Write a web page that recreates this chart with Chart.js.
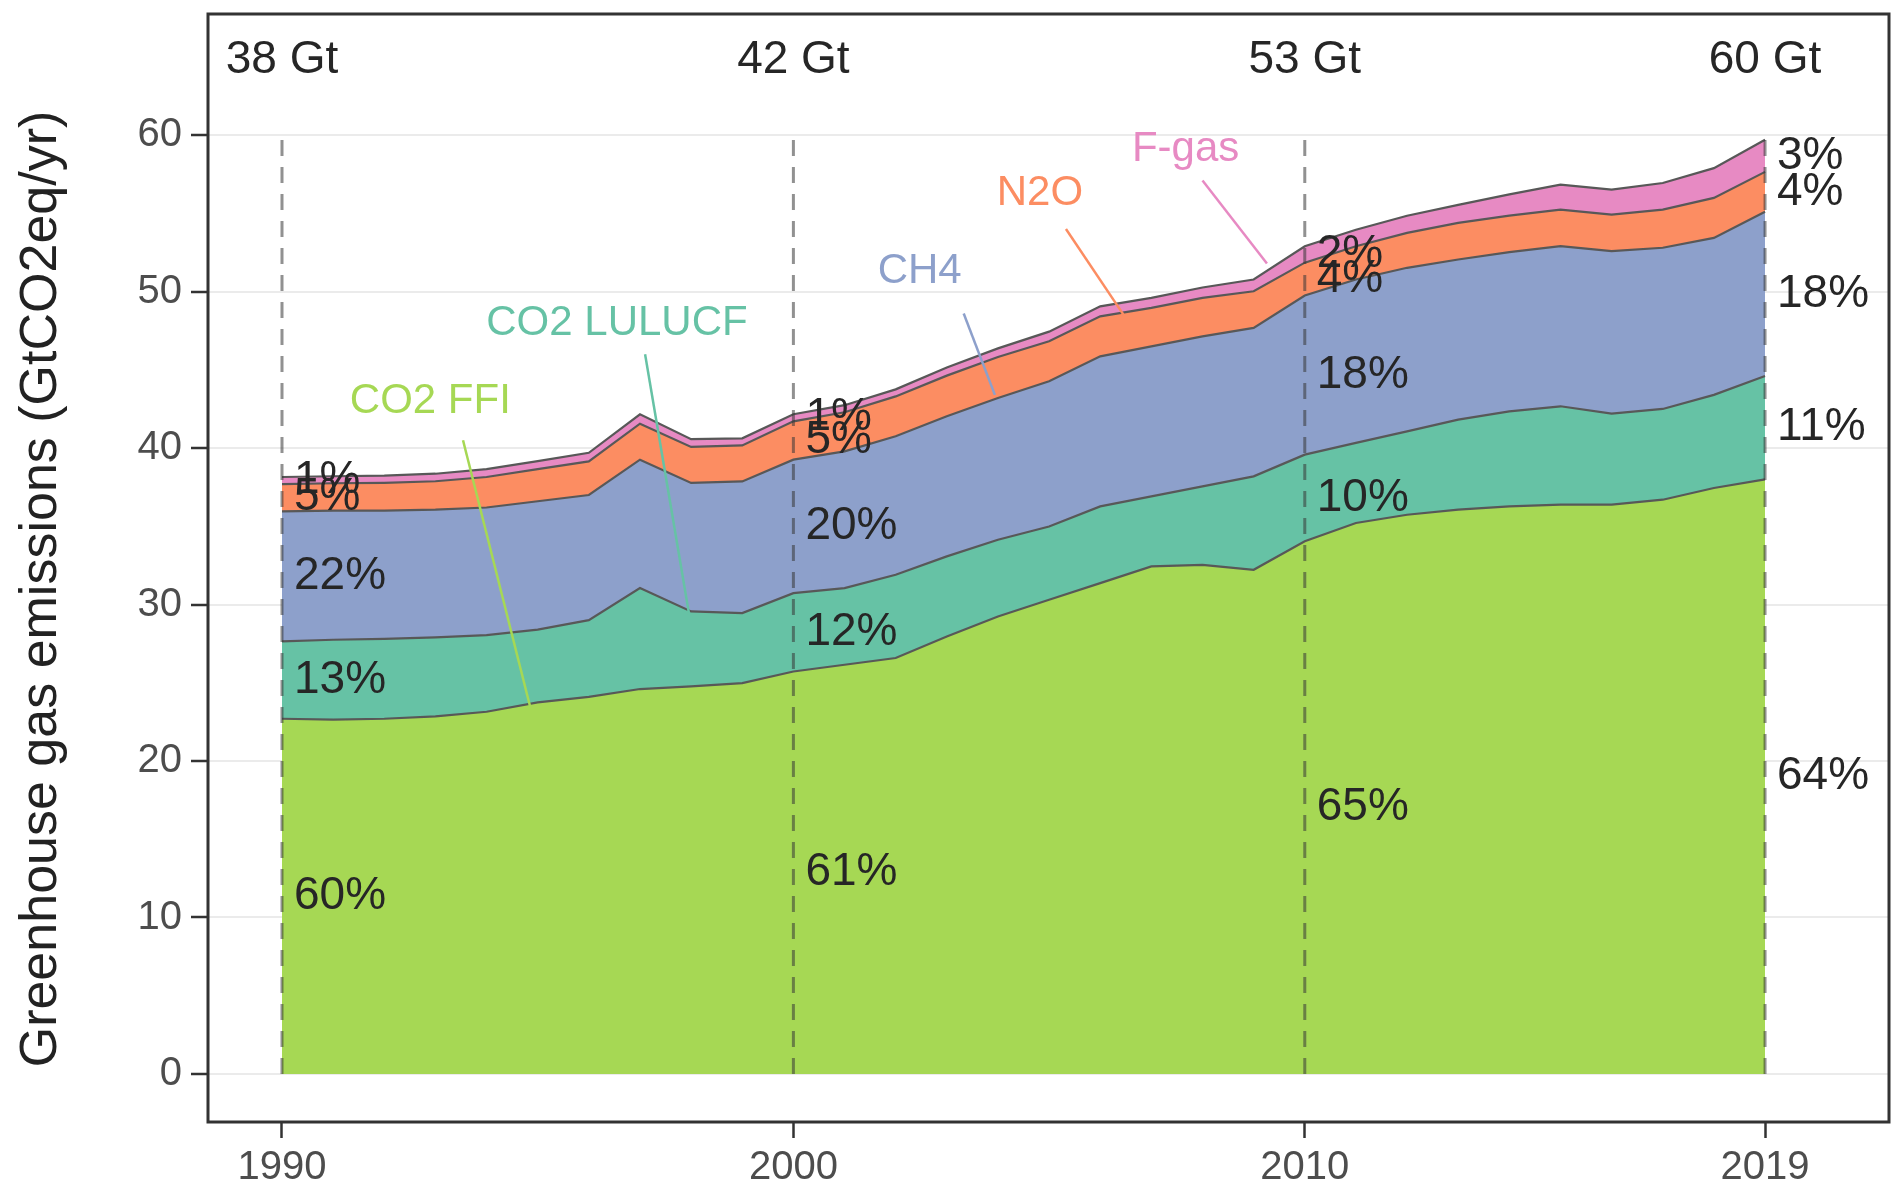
<!DOCTYPE html>
<html>
<head>
<meta charset="utf-8">
<script src="https://cdn.jsdelivr.net/npm/chart.js@4.4.1/dist/chart.umd.min.js"></script>
<style>
  html, body { margin: 0; padding: 0; background: #fff; }
  #chart { display: block; }
</style>
</head>
<body>
<canvas id="chart" width="1896" height="1186"></canvas>
<script>
const years = [
  1990, 1991, 1992, 1993, 1994, 1995, 1996, 1997, 1998, 1999,
  2000, 2001, 2002, 2003, 2004, 2005, 2006, 2007, 2008, 2009,
  2010, 2011, 2012, 2013, 2014, 2015, 2016, 2017, 2018, 2019,
];

// GtCO2eq/yr
const co2ffi = [22.7, 22.65, 22.7, 22.85, 23.15, 23.75, 24.1, 24.6, 24.77, 24.98,
  25.72, 26.15, 26.58, 27.96, 29.24, 30.31, 31.37, 32.44, 32.54, 32.22,
  34.04, 35.21, 35.74, 36.06, 36.27, 36.38, 36.38, 36.7, 37.45, 38.0];
const co2lulucf = [4.95, 5.1, 5.1, 5.05, 4.9, 4.65, 4.9, 6.45, 4.79, 4.47,
  5.01, 4.9, 5.32, 5.12, 4.9, 4.68, 4.9, 4.47, 5.01, 5.97,
  5.54, 5.12, 5.33, 5.76, 6.08, 6.29, 5.82, 5.8, 5.95, 6.6];
const ch4 = [8.3, 8.25, 8.2, 8.16, 8.15, 8.2, 8.0, 8.21, 8.21, 8.42,
  8.53, 8.74, 8.85, 8.95, 9.06, 9.28, 9.59, 9.59, 9.59, 9.49,
  10.17, 10.44, 10.45, 10.23, 10.17, 10.23, 10.38, 10.3, 10.03, 10.5];
const n2o = [1.75, 1.75, 1.78, 1.82, 1.95, 2.05, 2.15, 2.3, 2.3, 2.3,
  2.45, 2.5, 2.55, 2.6, 2.62, 2.55, 2.56, 2.46, 2.46, 2.34,
  2.1, 2.13, 2.23, 2.34, 2.34, 2.34, 2.34, 2.44, 2.56, 2.55];
const fgas = [0.45, 0.45, 0.46, 0.48, 0.5, 0.52, 0.55, 0.6, 0.5, 0.45,
  0.45, 0.45, 0.45, 0.52, 0.55, 0.62, 0.64, 0.64, 0.66, 0.75,
  1.05, 1.05, 1.1, 1.15, 1.35, 1.6, 1.6, 1.7, 1.9, 2.05];

const gasNames = ["CO2 FFI", "CO2 LULUCF", "CH4", "N2O", "F-gas"];
const gasColors = ["#A6D854", "#66C2A5", "#8DA0CB", "#FC8D62", "#E78AC3"];

// reference years with totals and shares
const refYears = [1990, 2000, 2010, 2019];
const totalLabels = ["38 Gt", "42 Gt", "53 Gt", "60 Gt"];
const shares = [
  [60, 13, 22, 5, 1],
  [61, 12, 20, 5, 1],
  [65, 10, 18, 4, 2],
  [64, 11, 18, 4, 3],
];

// gas name labels and their leader lines (data coordinates)
const nameX = [1992.9, 1996.55, 2002.47, 2004.82, 2007.67];
const nameY = [43.0, 47.95, 51.28, 56.3, 59.08];
const leaderFrom = [[1993.54, 40.5], [1997.1, 46.0], [2003.33, 48.6], [2005.33, 54.0], [2008.0, 57.1]];
const leaderTo = [[1994.85, 23.5], [1997.96, 29.4], [2003.94, 43.4], [2006.48, 48.4], [2009.26, 51.8]];

const yTicks = [0, 10, 20, 30, 40, 50, 60];
const xTicks = [1990, 2000, 2010, 2019];
const yTitle = "Greenhouse gas emissions (GtCO2eq/yr)";

const FONT = "'Liberation Sans', Arial, sans-serif";
Chart.defaults.font.family = FONT;

const values = [co2ffi, co2lulucf, ch4, n2o, fgas];
const datasets = values.map((arr, k) => ({
  label: gasNames[k],
  data: years.map((yr, i) => ({ x: yr, y: arr[i] })),
  backgroundColor: gasColors[k],
  borderColor: "#585858",
  borderWidth: 2.2,
  pointRadius: 0,
  tension: 0,
  fill: k === 0 ? "origin" : "-1",
}));

function noPad(s) {
  s.paddingTop = 0;
  s.paddingBottom = 0;
  s.paddingLeft = 0;
  s.paddingRight = 0;
}

const overlay = {
  id: "overlay",
  afterDatasetsDraw(chart) {
    const { ctx, chartArea: a, scales: { x, y } } = chart;
    ctx.save();

    // dashed reference lines
    ctx.strokeStyle = "rgba(55,55,55,0.55)";
    ctx.lineWidth = 3;
    ctx.setLineDash([16, 11]);
    refYears.forEach((yr) => {
      const px = x.getPixelForValue(yr);
      ctx.beginPath();
      ctx.moveTo(px, y.getPixelForValue(0));
      ctx.lineTo(px, y.getPixelForValue(60));
      ctx.stroke();
    });
    ctx.setLineDash([]);

    // totals at the top
    ctx.font = "46px " + FONT;
    ctx.fillStyle = "#262626";
    ctx.textAlign = "center";
    ctx.textBaseline = "middle";
    refYears.forEach((yr, i) => {
      ctx.fillText(totalLabels[i], x.getPixelForValue(yr), y.getPixelForValue(64.8));
    });

    // shares in the middle of each band
    ctx.textAlign = "left";
    refYears.forEach((yr, i) => {
      const idx = years.indexOf(yr);
      let base = 0;
      values.forEach((arr, k) => {
        const v = arr[idx];
        ctx.fillText(shares[i][k] + "%", x.getPixelForValue(yr) + 12, y.getPixelForValue(base + v / 2));
        base += v;
      });
    });

    // gas names with leader lines
    ctx.font = "42px " + FONT;
    ctx.textAlign = "center";
    ctx.lineWidth = 2.5;
    gasNames.forEach((name, k) => {
      ctx.strokeStyle = gasColors[k];
      ctx.beginPath();
      ctx.moveTo(x.getPixelForValue(leaderFrom[k][0]), y.getPixelForValue(leaderFrom[k][1]));
      ctx.lineTo(x.getPixelForValue(leaderTo[k][0]), y.getPixelForValue(leaderTo[k][1]));
      ctx.stroke();
      ctx.fillStyle = gasColors[k];
      ctx.fillText(name, x.getPixelForValue(nameX[k]), y.getPixelForValue(nameY[k]));
    });

    // y axis title, a little below the panel centre as in the original
    ctx.translate(42, (a.top + a.bottom) / 2 + 21);
    ctx.rotate(-Math.PI / 2);
    ctx.font = "52px " + FONT;
    ctx.fillStyle = "#222";
    ctx.textAlign = "center";
    ctx.fillText(yTitle, 0, 0);
    ctx.restore();
  },
  afterDraw(chart) {
    const { ctx, chartArea: a } = chart;
    ctx.save();
    ctx.strokeStyle = "#333";
    ctx.lineWidth = 3;
    ctx.strokeRect(a.left, a.top, a.right - a.left, a.bottom - a.top);
    ctx.restore();
  },
};

const config = {
  type: "line",
  data: { datasets: datasets },
  options: {
    responsive: false,
    animation: false,
    layout: { padding: { left: 0, right: 7, top: 14, bottom: 0 } },
    plugins: {
      legend: { display: false },
      tooltip: { enabled: false },
    },
    scales: {
      x: {
        type: "linear",
        min: 1988.553,
        max: 2021.424,
        afterBuildTicks: (s) => { s.ticks = xTicks.map((v) => ({ value: v })); },
        afterFit: (s) => { s.height = 64; noPad(s); },
        ticks: {
          color: "#4d4d4d",
          font: { size: 40 },
          padding: 6,
          maxRotation: 0,
          callback: (v) => String(v),
        },
        grid: {
          drawOnChartArea: false,
          drawTicks: true,
          tickLength: 16,
          tickColor: "#333",
          tickWidth: 2.5,
        },
        border: { display: false },
      },
      y: {
        stacked: true,
        min: -3.07,
        max: 67.74,
        afterBuildTicks: (s) => { s.ticks = yTicks.map((v) => ({ value: v })); },
        afterFit: (s) => { s.width = 208; noPad(s); },
        ticks: {
          color: "#4d4d4d",
          font: { size: 40 },
          padding: 9,
        },
        grid: {
          color: "#ebebeb",
          lineWidth: 2,
          drawTicks: true,
          tickLength: 17,
          tickColor: "#333",
          tickWidth: 2.5,
        },
        border: { display: false },
      },
    },
  },
  plugins: [overlay],
};

new Chart(document.getElementById("chart"), config);
</script>
</body>
</html>
